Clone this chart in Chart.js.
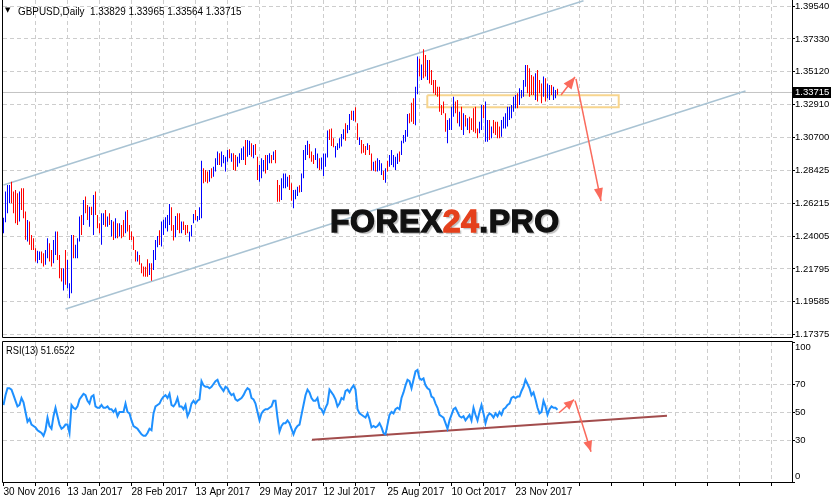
<!DOCTYPE html>
<html>
<head>
<meta charset="utf-8">
<script src="https://cdn.jsdelivr.net/npm/chart.js@4/dist/chart.umd.min.js"></script>
<style>
html,body{margin:0;padding:0;background:#fff;}
#wrap{position:relative;width:831px;height:504px;overflow:hidden;background:#fff;}
#main{position:absolute;left:0;top:0;}
#rsi{position:absolute;left:0;top:340px;}
.lbl{position:absolute;font-family:"Liberation Sans",Arial,sans-serif;font-size:11px;line-height:11px;color:#000;white-space:pre;transform:scaleX(0.85);transform-origin:0 0;}
#hdr{transform:scaleX(0.9);}
#tri{position:absolute;left:5px;top:7px;font-family:"DejaVu Sans",sans-serif;font-size:7px;line-height:7px;color:#000;}
#wm{position:absolute;left:330px;top:205px;font-family:"Liberation Sans",Arial,sans-serif;font-weight:bold;font-size:32px;line-height:32px;color:#111;white-space:pre;-webkit-text-stroke:1.3px #111;text-shadow:2px 2px 1px rgba(0,0,0,0.25);letter-spacing:0.5px;}
#wm .n{color:#e5401c;-webkit-text-stroke:1.3px #e5401c;}
</style>
</head>
<body>
<div id="wrap">
<canvas id="main" width="831" height="340"></canvas>
<canvas id="rsi" width="831" height="164"></canvas>
<div id="tri">&#9660;</div>
<div class="lbl" id="hdr" style="left:18px;top:6px;"></div>
<div class="lbl" id="rsihdr" style="left:6px;top:345px;"></div>
<div id="wm">FOREX<span class="n">24</span>.PRO</div>
</div>
<script>
// ---------------- data ----------------
const symbolTitle = 'GBPUSD,Daily';
const lastBar = {open: 1.33829, high: 1.33965, low: 1.33564, close: 1.33715};
const rsiTitle = 'RSI(13)';
const dateLabels = ['30 Nov 2016','13 Jan 2017','28 Feb 2017','13 Apr 2017','29 May 2017','12 Jul 2017','25 Aug 2017','10 Oct 2017','23 Nov 2017'];
const dateLabelIdx = [0,32,64,96,128,160,192,224,256];
const gridIdx = [0,16,32,48,64,80,96,112,128,144,160,176,192,208,224,240,256,272,288,304,320,336,352,368,384];
const priceTicks = [1.39540,1.37330,1.35120,1.32910,1.30700,1.28425,1.26215,1.24005,1.21795,1.19585,1.17375];
const rsiTicks = [0,30,50,70,100];

const highs = [
1.2526,1.2702,1.2747,1.2747,1.2769,1.2702,1.2713,1.2690,1.2702,1.2724,
1.2724,1.2567,1.2510,1.2499,1.2409,1.2387,1.2319,1.2303,1.2297,1.2297,
1.2285,1.2308,1.2387,1.2353,1.2308,1.2375,1.2432,1.2432,1.2274,1.2184,
1.2184,1.2308,1.2240,1.2083,1.2409,1.2409,1.2342,1.2387,1.2533,1.2544,
1.2645,1.2668,1.2612,1.2600,1.2600,1.2679,1.2702,1.2544,1.2488,1.2556,
1.2556,1.2578,1.2533,1.2556,1.2510,1.2499,1.2522,1.2488,1.2488,1.2477,
1.2510,1.2567,1.2578,1.2477,1.2432,1.2398,1.2308,1.2297,1.2274,1.2218,
1.2195,1.2194,1.2244,1.2217,1.2217,1.2307,1.2375,1.2402,1.2440,1.2499,
1.2511,1.2528,1.2544,1.2618,1.2596,1.2477,1.2537,1.2555,1.2555,1.2499,
1.2499,1.2477,1.2477,1.2431,1.2477,1.2551,1.2578,1.2537,1.2596,1.2911,
1.2859,1.2848,1.2837,1.2848,1.2859,1.2870,1.2927,1.2972,1.2961,1.2972,
1.2949,1.2938,1.2983,1.2988,1.2961,1.2961,1.2949,1.2938,1.2961,1.2994,
1.3006,1.3051,1.3051,1.3046,1.3028,1.3017,1.3024,1.2938,1.2882,1.2927,
1.2915,1.2949,1.2949,1.2961,1.2949,1.2972,1.2983,1.2780,1.2747,1.2792,
1.2825,1.2825,1.2803,1.2814,1.2758,1.2713,1.2715,1.2735,1.2745,1.2825,
1.2983,1.3017,1.3046,1.3024,1.2972,1.2949,1.2994,1.2960,1.2927,1.2933,
1.2960,1.2960,1.3114,1.3123,1.3129,1.3062,1.3010,1.3028,1.3062,1.3091,
1.3123,1.3163,1.3152,1.3226,1.3249,1.3249,1.3271,1.3163,1.3069,1.3051,
1.3024,1.3010,1.3028,1.3017,1.2960,1.2904,1.2911,1.2927,1.2915,1.2893,
1.2843,1.2859,1.2911,1.2949,1.2983,1.2949,1.2938,1.2960,1.2972,1.3046,
1.3084,1.3118,1.3226,1.3231,1.3303,1.3332,1.3411,1.3614,1.3600,1.3560,
1.3663,1.3625,1.3591,1.3591,1.3524,1.3456,1.3456,1.3411,1.3411,1.3287,
1.3310,1.3231,1.3186,1.3197,1.3276,1.3343,1.3310,1.3321,1.3242,1.3276,
1.3231,1.3220,1.3197,1.3208,1.3197,1.3265,1.3276,1.3129,1.3174,1.3287,
1.3287,1.3310,1.3186,1.3186,1.3141,1.3186,1.3174,1.3174,1.3141,1.3186,
1.3208,1.3231,1.3276,1.3276,1.3287,1.3343,1.3355,1.3366,1.3400,1.3388,
1.3456,1.3557,1.3557,1.3535,1.3490,1.3479,1.3501,1.3524,1.3456,1.3433,
1.3479,1.3467,1.3433,1.3422,1.3422,1.3411,1.3388,1.33965];

const lows = [
1.2420,1.2495,1.2556,1.2623,1.2623,1.2556,1.2488,1.2477,1.2499,1.2578,
1.2522,1.2376,1.2364,1.2342,1.2308,1.2308,1.2229,1.2218,1.2240,1.2218,
1.2195,1.2207,1.2252,1.2229,1.2195,1.2218,1.2274,1.2240,1.2117,1.2094,
1.2033,1.2072,1.2049,1.1982,1.2015,1.2252,1.2252,1.2252,1.2364,1.2409,
1.2477,1.2556,1.2510,1.2465,1.2544,1.2409,1.2544,1.2454,1.2420,1.2342,
1.2477,1.2465,1.2465,1.2477,1.2398,1.2375,1.2387,1.2387,1.2398,1.2387,
1.2398,1.2420,1.2432,1.2375,1.2375,1.2308,1.2229,1.2229,1.2207,1.2150,
1.2128,1.2127,1.2127,1.2138,1.2100,1.2172,1.2240,1.2326,1.2341,1.2331,
1.2409,1.2454,1.2432,1.2477,1.2438,1.2371,1.2393,1.2443,1.2420,1.2420,
1.2443,1.2409,1.2420,1.2364,1.2398,1.2488,1.2510,1.2499,1.2510,1.2521,
1.2758,1.2769,1.2758,1.2769,1.2792,1.2803,1.2837,1.2882,1.2882,1.2870,
1.2893,1.2837,1.2904,1.2927,1.2904,1.2848,1.2843,1.2870,1.2893,1.2915,
1.2915,1.2882,1.2938,1.2949,1.2938,1.2927,1.2949,1.2780,1.2769,1.2792,
1.2837,1.2825,1.2848,1.2893,1.2893,1.2915,1.2893,1.2634,1.2634,1.2645,
1.2724,1.2724,1.2735,1.2713,1.2640,1.2589,1.2650,1.2672,1.2695,1.2700,
1.2792,1.2915,1.2949,1.2927,1.2904,1.2888,1.2915,1.2859,1.2848,1.2852,
1.2807,1.2870,1.2933,1.3051,1.3010,1.3001,1.2933,1.2983,1.2994,1.3006,
1.3055,1.3046,1.3096,1.3118,1.3186,1.3181,1.3174,1.3051,1.3017,1.2960,
1.2965,1.2949,1.2983,1.2949,1.2843,1.2843,1.2837,1.2837,1.2843,1.2814,
1.2780,1.2762,1.2837,1.2870,1.2882,1.2866,1.2848,1.2888,1.2904,1.2949,
1.3028,1.3039,1.3073,1.3163,1.3174,1.3159,1.3150,1.3360,1.3480,1.3456,
1.3467,1.3479,1.3456,1.3433,1.3422,1.3366,1.3355,1.3343,1.3242,1.3220,
1.3231,1.3107,1.3028,1.3118,1.3118,1.3208,1.3231,1.3163,1.3141,1.3118,
1.3084,1.3141,1.3118,1.3096,1.3118,1.3107,1.3096,1.3062,1.3096,1.3118,
1.3197,1.3039,1.3039,1.3051,1.3062,1.3096,1.3084,1.3062,1.3062,1.3073,
1.3129,1.3129,1.3141,1.3186,1.3197,1.3242,1.3265,1.3265,1.3287,1.3332,
1.3343,1.3411,1.3366,1.3343,1.3355,1.3355,1.3321,1.3310,1.3366,1.3298,
1.3343,1.3310,1.3332,1.3321,1.3355,1.3321,1.3332,1.33564];

// 1 = bullish bar (close above open), 0 = bearish bar
const ups = [
1,1,1,1,0,0,0,0,1,0, 0,0,1,0,0,0,0,1,1,0, 0,1,1,0,0,1,1,0,0,0, 1,0,1,1,1,0,1,1,1,0,
1,0,0,1,0,1,0,0,0,1, 1,0,1,0,1,0,1,0,1,0, 0,1,0,0,0,0,0,1,0,0, 0,0,0,1,0,1,1,1,0,1,
1,1,1,1,0,0,1,0,0,1, 0,0,0,1,1,1,0,1,1,1, 0,0,0,1,0,1,1,1,0,1, 1,1,1,0,1,0,0,1,1,1,
1,0,1,1,0,1,0,0,1,1, 1,0,1,1,0,1,0,0,0,1, 1,1,1,0,0,1,1,1,0,1, 1,1,1,0,0,0,1,1,0,1,
1,1,1,0,0,0,1,1,1,1, 1,0,1,1,0,1,0,0,1,0, 0,0,1,0,0,1,0,1,1,1, 0,1,0,1,1,1,1,1,0,1,
1,1,1,0,0,0,1,1,0,1, 0,0,1,0,0,0,0,0,0,0, 0,0,1,1,1,1,0,0,1,0, 1,0,1,0,0,0,0,0,1,1,
0,1,1,0,1,0,0,0,0,1, 1,1,1,1,1,1,1,0,1,1, 1,1,0,0,0,0,1,0,0,0, 1,0,1,1,0,1,1,0];

const rsi = [
55,62,67,67,66,62,58,54,55,60, 57,50,43,45,41,40,39,37,36,35,
33,37,46,40,38,47,53,47,41,38, 39,41,41,35,55,53,52,54,59,61,
63,62,58,56,61,62,54,53,53,55, 53,53,54,52,52,50,52,47,50,50,
50,56,50,49,44,40,39,38,36,34, 33,33,35,38,37,49,54,55,56,59,
61,62,60,63,55,54,56,60,54,54, 52,55,47,50,56,58,56,58,59,72,
69,68,68,67,68,70,72,73,69,67, 65,68,67,64,62,63,59,58,59,60,
62,65,67,66,60,59,56,50,44,49, 51,52,52,53,54,58,58,46,36,40,
42,42,44,42,38,34,38,40,41,48, 55,62,66,64,60,58,58,60,53,52,
49,53,56,66,64,62,59,54,56,60, 59,65,66,64,67,69,66,52,49,48,
47,46,49,45,39,40,39,40,42,39, 35,34,41,48,50,49,52,53,52,60,
64,69,73,72,67,73,79,80,74,73, 74,69,67,66,61,60,56,53,48,47,
46,42,38,44,48,52,53,50,47,46, 47,44,46,48,44,53,48,44,50,55,
49,42,47,49,48,46,49,47,50,48, 52,53,55,56,60,61,60,61,61,65,
68,73,70,67,62,64,59,53,49,50, 58,54,48,52,54,53,53,51.6522];

// drawn objects (bar index, value)
const upperChannel = [{x:0, y:1.2747}, {x:290, y:1.3991}];
const lowerChannel = [{x:31, y:1.1909}, {x:371, y:1.3382}];
const zoneX = [211.9, 307.6];
const zoneY = [1.3353, 1.3272];
const priceArrowUp = [{x:278.75, y:1.3355}, {x:285.75, y:1.3476}];
const priceArrowDown = [{x:286.25, y:1.3463}, {x:298.75, y:1.2638}];
const rsiArrowUp = [{x:277.75, y:49.5}, {x:285.25, y:58.8}];
const rsiArrowDown = [{x:285.75, y:58.1}, {x:293.75, y:21.6}];
const rsiTrend = [{x:154.25, y:30.2}, {x:331.75, y:47.4}];

// ---------------- rendering ----------------
const FONT = '"Liberation Sans", Arial, sans-serif';
Chart.defaults.font.family = FONT;
Chart.defaults.font.size = 10;
Chart.defaults.color = '#000';
Chart.defaults.elements.point.radius = 0;
Chart.defaults.elements.point.hoverRadius = 0;

document.getElementById('hdr').textContent = symbolTitle + '  ' + [lastBar.open, lastBar.high, lastBar.low, lastBar.close].map(v => v.toFixed(5)).join(' ');
document.getElementById('rsihdr').textContent = rsiTitle + ' ' + rsi[rsi.length - 1].toFixed(4);

const GRID = '#cdcdcd';
const ARROW = '#fa6a5c';
const X_MIN = -0.25, X_MAX = 394.25;

const arrowHeads = {
  id: 'arrowHeads',
  afterDatasetsDraw(chart) {
    const ctx = chart.ctx;
    chart.data.datasets.forEach((ds, di) => {
      if (!ds.arrowHead) return;
      const pts = chart.getDatasetMeta(di).data;
      const a = pts[pts.length - 2], b = pts[pts.length - 1];
      const ang = Math.atan2(b.y - a.y, b.x - a.x);
      const L = ds.arrowHead[0], W = ds.arrowHead[1];
      const bx = b.x - L * Math.cos(ang), by = b.y - L * Math.sin(ang);
      ctx.save();
      ctx.fillStyle = ds.borderColor;
      ctx.beginPath();
      ctx.moveTo(b.x, b.y);
      ctx.lineTo(bx + W / 2 * Math.sin(ang), by - W / 2 * Math.cos(ang));
      ctx.lineTo(bx - W / 2 * Math.sin(ang), by + W / 2 * Math.cos(ang));
      ctx.closePath();
      ctx.fill();
      ctx.restore();
    });
  }
};

const frame = {
  id: 'frame',
  afterDraw(chart, args, opts) {
    const {left, right, top, bottom} = chart.chartArea;
    const ctx = chart.ctx;
    ctx.save();
    ctx.strokeStyle = '#000';
    ctx.lineWidth = 1;
    ctx.beginPath();
    ctx.moveTo(left - 0.5, opts.top ? top - 0.5 : 0);
    ctx.lineTo(left - 0.5, bottom + 0.5);
    ctx.lineTo(right + 0.5, bottom + 0.5);
    ctx.lineTo(right + 0.5, opts.top ? top - 0.5 : 0);
    if (opts.top) ctx.lineTo(left - 0.5, top - 0.5);
    ctx.stroke();
    ctx.restore();
  }
};

const bidLabel = {
  id: 'bidLabel',
  afterDraw(chart) {
    const ctx = chart.ctx;
    const y = Math.round(chart.scales.y.getPixelForValue(lastBar.close));
    const x = chart.chartArea.right + 1;
    ctx.save();
    ctx.fillStyle = '#000';
    ctx.fillRect(x, y - 5, chart.width - x, 11);
    ctx.fillStyle = '#fff';
    ctx.font = '9.5px ' + FONT;
    ctx.textBaseline = 'middle';
    ctx.textAlign = 'left';
    ctx.fillText(lastBar.close.toFixed(5), x + 2, y + 0.5);
    ctx.restore();
  }
};

const xGridColor = c => (c.tick && c.tick.value === 0) ? 'rgba(0,0,0,0)' : GRID;

new Chart(document.getElementById('main'), {
  type: 'line',
  data: {
    datasets: [
      {type: 'line', data: [{x: -1, y: lastBar.close}, {x: 400, y: lastBar.close}], borderColor: '#c4c4c4', borderWidth: 1, order: 9},
      {type: 'line', data: [{x: zoneX[0], y: zoneY[0]}, {x: zoneX[1], y: zoneY[0]}, {x: zoneX[1], y: zoneY[1]}, {x: zoneX[0], y: zoneY[1]}, {x: zoneX[0], y: zoneY[0]}],
        borderColor: '#f7d58e', borderWidth: 2, order: 8},
      {type: 'line', data: upperChannel, borderColor: '#a9c3d3', borderWidth: 1.5, order: 7},
      {type: 'line', data: lowerChannel, borderColor: '#a9c3d3', borderWidth: 1.5, order: 7},
      {type: 'bar', data: highs.map((h, i) => ({x: i, y: [lows[i], h]})),
        backgroundColor: ups.map(u => u ? '#0000ff' : '#ff0000'),
        barThickness: 1, borderWidth: 0, inflateAmount: 0, grouped: false, order: 2},
      {type: 'line', data: priceArrowUp, borderColor: ARROW, borderWidth: 1.5, arrowHead: [12, 10], order: 1},
      {type: 'line', data: priceArrowDown, borderColor: ARROW, borderWidth: 1.5, arrowHead: [13, 9], order: 1}
    ]
  },
  options: {
    responsive: false, animation: false, devicePixelRatio: 1, events: [],
    layout: {padding: {left: 3, right: 0, top: 0, bottom: 3}},
    plugins: {legend: {display: false}, tooltip: {enabled: false}, frame: {top: false}},
    scales: {
      x: {type: 'linear', min: X_MIN, max: X_MAX, offset: false,
        afterBuildTicks: s => { s.ticks = gridIdx.map(v => ({value: v})); },
        ticks: {display: false},
        grid: {color: xGridColor, drawTicks: false, offset: false},
        border: {display: false, dash: [4, 3]},
        afterFit: s => { s.height = 0; s.paddingLeft = 0; s.paddingRight = 0; }},
      y: {position: 'right', min: 1.17194, max: 1.39965,
        afterBuildTicks: s => { s.ticks = priceTicks.map(v => ({value: v})); },
        ticks: {autoSkip: false, padding: 0, font: {size: 9.5}, callback: v => v.toFixed(5)},
        grid: {color: GRID, tickColor: '#000', tickLength: 3},
        border: {display: true, color: '#000', dash: [4, 3]},
        afterFit: s => { s.width = 39; s.paddingTop = 0; s.paddingBottom = 0; }}
    }
  },
  plugins: [arrowHeads, frame, bidLabel]
});

new Chart(document.getElementById('rsi'), {
  type: 'line',
  data: {
    datasets: [
      {type: 'line', data: rsiTrend, borderColor: '#a24c4c', borderWidth: 2, order: 5},
      {type: 'line', data: rsi.map((v, i) => ({x: i, y: v})), borderColor: '#1e90ff', borderWidth: 2, order: 2},
      {type: 'line', data: rsiArrowUp, borderColor: ARROW, borderWidth: 1.5, arrowHead: [10, 9], order: 1},
      {type: 'line', data: rsiArrowDown, borderColor: ARROW, borderWidth: 1.5, arrowHead: [11, 9], order: 1}
    ]
  },
  options: {
    responsive: false, animation: false, devicePixelRatio: 1, events: [],
    layout: {padding: {left: 3, right: 0, top: 2, bottom: 0}},
    plugins: {legend: {display: false}, tooltip: {enabled: false}, frame: {top: true}},
    scales: {
      x: {type: 'linear', min: X_MIN, max: X_MAX, offset: false,
        afterBuildTicks: s => { s.ticks = gridIdx.map(v => ({value: v})); },
        ticks: {autoSkip: false, maxRotation: 0, minRotation: 0, align: 'start', padding: 0,
          callback: v => { const k = dateLabelIdx.indexOf(v); return k >= 0 ? dateLabels[k] : ''; }},
        grid: {color: xGridColor, tickColor: '#000', tickLength: 4, offset: false},
        border: {display: true, color: '#000', dash: [4, 3]},
        afterFit: s => { s.height = 22; s.paddingLeft = 0; s.paddingRight = 0; }},
      y: {position: 'right', min: 0, max: 100,
        afterBuildTicks: s => { s.ticks = rsiTicks.map(v => ({value: v})); },
        ticks: {autoSkip: false, padding: 0, font: {size: 9.5},
          callback: v => v === 100 ? ['', '100'] : (v === 0 ? ['0', ''] : String(v))},
        grid: {color: c => (c.tick && (c.tick.value === 0 || c.tick.value === 100)) ? 'rgba(0,0,0,0)' : GRID,
          tickColor: '#000', tickLength: 3},
        border: {display: true, color: '#000', dash: [4, 3]},
        afterFit: s => { s.width = 39; s.paddingTop = 0; s.paddingBottom = 0; }}
    }
  },
  plugins: [arrowHeads, frame]
});
</script>
</body>
</html>
